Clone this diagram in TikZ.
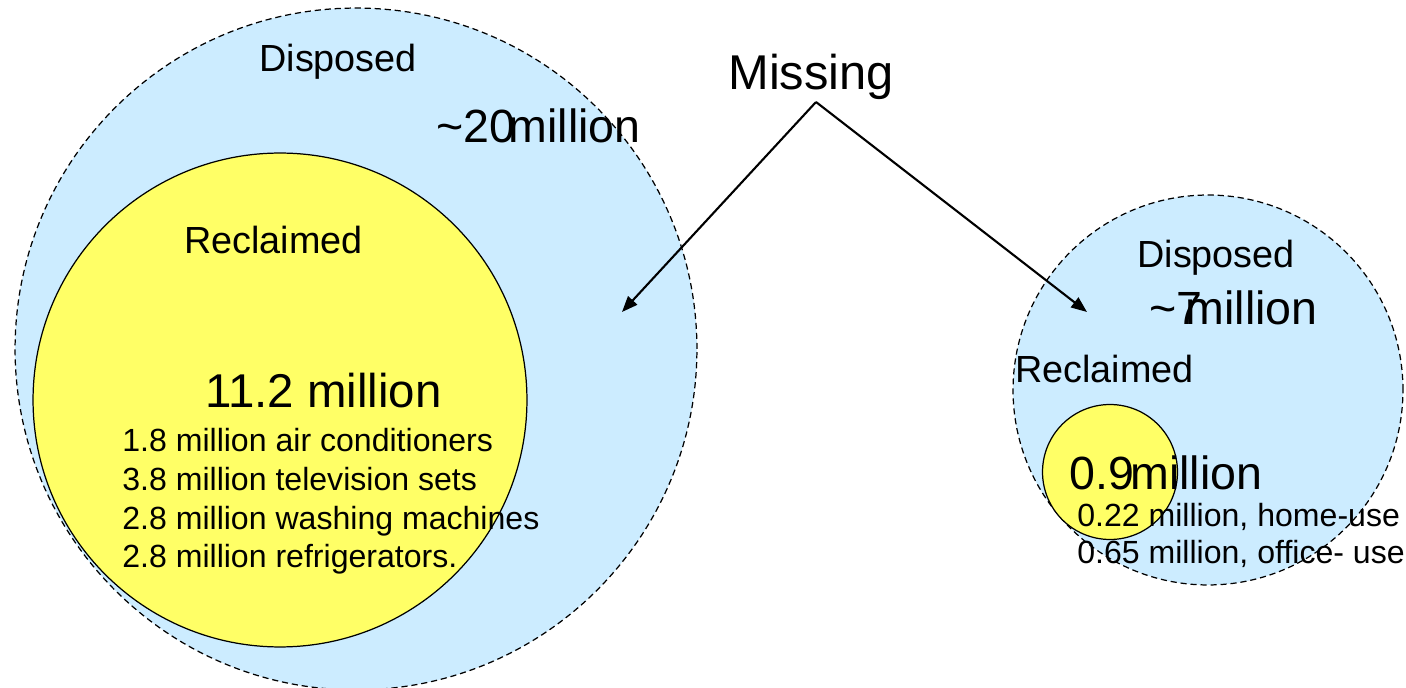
\documentclass[tikz,border=0pt]{standalone}
\usepackage{fontspec}
\setmainfont{Liberation Sans}
\usetikzlibrary{arrows.meta}
\definecolor{dispblue}{HTML}{CCECFF}
\definecolor{reclyellow}{HTML}{FFFF66}
\begin{document}
\begin{tikzpicture}[x=0.02cm,y=-0.02cm,
  disposedcirc/.style={circle, draw=black, fill=dispblue, line width=0.7pt,
    dash pattern=on 3.5pt off 2.2pt, inner sep=0pt},
  reclaimedcirc/.style={circle, draw=black, fill=reclyellow, line width=0.7pt, inner sep=0pt},
  lbl/.style={inner sep=0pt, anchor=base west},
  midtxt/.style={lbl, font=\fontsize{21.5}{25}\selectfont},
  bigtxt/.style={lbl, font=\fontsize{26.5}{31}\selectfont},
  smalltxt/.style={lbl, font=\fontsize{18.25}{22}\selectfont},
  pointer/.style={line width=1.2pt, -{Triangle[length=9pt,width=7pt]}}]
\useasboundingbox (0,0) rectangle (1406,688);

% left pair of circles
\node (dispL) [disposedcirc, minimum size=13.64cm] at (356,349) {};
\node (reclL) [reclaimedcirc, minimum size=9.88cm] at (280,400) {};

% right pair of circles
\node (dispR) [disposedcirc, minimum size=7.8cm] at (1208,390) {};
\node (reclR) [reclaimedcirc, minimum size=2.7cm] at (1110,472) {};

% labels, left
\node (dispLtxt) [midtxt] at (259,72) {Disposed};
\node (dispLnum) [bigtxt] at (436,143) {\textasciitilde20\kern-0.14em million};
\node (reclLtxt) [midtxt] at (184,254) {Reclaimed};
\node (reclLnum) [bigtxt, font=\fontsize{27}{31}\selectfont] at (205,408) {11.2 million};
\node (itemA) [smalltxt] at (122,452) {1.8 million air conditioners};
\node (itemB) [smalltxt] at (122,491) {3.8 million television sets};
\node (itemC) [smalltxt] at (122,530) {2.8 million washing machines};
\node (itemD) [smalltxt] at (122,568) {2.8 million refrigerators.};

% labels, right
\node (dispRtxt) [midtxt] at (1137,268) {Disposed};
\node (dispRnum) [bigtxt] at (1149,325) {\textasciitilde7\kern-0.36em million};
\node (reclRtxt) [midtxt] at (1015,383) {Reclaimed};
\node (reclRnum) [bigtxt] at (1069,490) {0.9\kern-0.08em million};
\node (itemE) [smalltxt] at (1077,527) {0.22 million, home-use};
\node (itemF) [smalltxt] at (1077,564) {0.65 million, office- use};

% missing share, pointing into both rings
\node (missing) [lbl, font=\fontsize{27.8}{32}\selectfont] at (728,90) {Missing};
\coordinate (apex) at (816,102);
\coordinate (ringL) at (622,312);
\coordinate (ringR) at (1087,312);
\draw[pointer] (apex) -- (ringL);
\draw[pointer] (apex) -- (ringR);
\end{tikzpicture}
\end{document}
